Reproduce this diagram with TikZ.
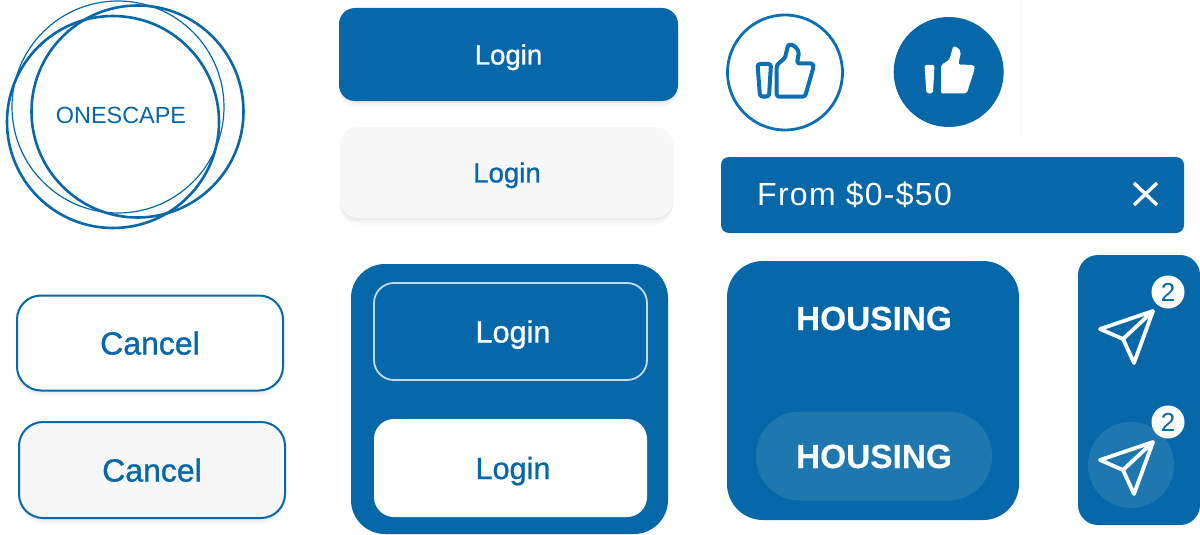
\documentclass[tikz,border=0pt]{standalone}
\usepackage{fontspec}
\setmainfont{Liberation Sans}
\newfontfamily\medfont[FakeBold=1]{Liberation Sans}
\newfontfamily\hvyfont[FakeBold=0.2]{Liberation Sans Bold}
\newfontfamily\widefont[LetterSpace=4]{Liberation Sans}
\definecolor{brand}{HTML}{0668A8}
\definecolor{chipgrey}{HTML}{F7F7F7}
\definecolor{ringblue}{HTML}{0B6FB3}
\tikzset{
  softshadow/.style={
    preaction={draw=none,fill=black,fill opacity=.025,transform canvas={yshift=-1.5pt}},
    preaction={draw=none,fill=black,fill opacity=.025,transform canvas={yshift=-3pt}},
    preaction={draw=none,fill=black,fill opacity=.02,transform canvas={yshift=-5pt}},
    preaction={draw=none,fill=black,fill opacity=.015,transform canvas={yshift=-7pt}}},
  btn/.style={rectangle,inner sep=0pt,outer sep=0pt,text depth=0pt,align=center},
  loginfont/.style={font=\medfont\fontsize{27.6}{28}\selectfont,text height=19.9pt},
  biglogin/.style={font=\medfont\fontsize{30.6}{31}\selectfont,text height=22pt},
  cancelfont/.style={font=\medfont\fontsize{32}{32}\selectfont,text height=23pt},
  housefont/.style={font=\hvyfont\fontsize{33.4}{34}\selectfont,text height=24pt},
  ring/.style={draw=brand,line width=2.6pt},
  thinring/.style={draw=brand,line width=1.2pt},
  plane/.style={draw=white,line width=3.8pt,line join=round,line cap=round},
  badge/.style={circle,fill=white,text=brand,minimum size=33pt,inner sep=0pt,font=\fontsize{26}{26}\selectfont,text height=18.7pt,text depth=0pt},
  panel/.style={fill=brand,draw=none},
}
\begin{document}
\begin{tikzpicture}[x=1pt,y=-1pt]
\useasboundingbox[fill=white] (0,0) rectangle (1200,535);
% faint seam
\fill[black!3] (1021,0) rectangle (1022,135);
% logo
\draw[ring] (113,122) circle[radius=106];
\draw[ring] (137.5,111.5) circle[radius=106];
\draw[thinring] (118,107) circle[radius=106];
\node[btn,text=brand,font=\fontsize{23.4}{24}\selectfont,text height=16.8pt] (logo) at (121,115) {ONESCAPE};
% login buttons
\node[btn,softshadow,fill=brand,rounded corners=16pt,minimum width=339pt,minimum height=93pt,text=white,loginfont] (login1) at (508.5,54.5) {Login};
\node[btn,softshadow,fill=chipgrey,rounded corners=18pt,minimum width=333pt,minimum height=91pt,text=brand,loginfont] (login2) at (506.5,172.5) {\hspace{1pt}Login};
% cancel buttons
\node[btn,softshadow,fill=white,draw=brand,line width=2pt,rounded corners=24pt,minimum width=266pt,minimum height=95pt,text=brand,cancelfont] (cancel1) at (150,343) {Cancel};
\node[btn,softshadow,fill=chipgrey,draw=brand,line width=2pt,rounded corners=24pt,minimum width=266pt,minimum height=96pt,text=brand,cancelfont] (cancel2) at (152,470) {Cancel};
% login panel
\node[btn,panel,rounded corners=34pt,minimum width=317pt,minimum height=270pt] (panelA) at (509.5,399) {};
\node[btn,draw=white!75!brand,line width=1.8pt,rounded corners=20pt,minimum width=273pt,minimum height=97pt,text=white,biglogin] (login3) at (510.5,331.5) {\hspace{5pt}Login};
\node[btn,fill=white,rounded corners=20pt,minimum width=273pt,minimum height=98pt,text=brand,biglogin] (login4) at (510.5,468) {\hspace{5pt}Login};
% like icons
\node[circle,draw=ringblue,line width=2.8pt,minimum size=115pt,inner sep=0pt] (likeA) at (785,72.5) {};
\node[circle,fill=brand,minimum size=110pt,inner sep=0pt] (likeB) at (948.7,72) {};
\begin{scope}[line width=4pt,draw=ringblue,line join=round]
  \draw[rounded corners=2.5pt] (757.5,64) -- (771,64) -- (769,96.5) -- (760,96.5) -- cycle;
  \draw[rounded corners=2.5pt] (776.7,96.7) -- (776.7,65) -- (785,58) -- (788.3,44) -- (795,46) -- (799,52) -- (797,63.5) -- (813,63.5) -- (813.5,67) -- (805,96.7) -- cycle;
\end{scope}
\fill[white,rounded corners=2pt] (924.5,65) -- (934.5,65) -- (933,93.5) -- (926.5,93.5) -- cycle;
\fill[white,rounded corners=2pt] (941,93.5) -- (941,65) -- (949.3,60) -- (953.3,46) -- (958,47.5) -- (961,52) -- (958.3,64.5) -- (974,65) -- (975,68) -- (966.7,93.5) -- cycle;
% chip
\node[btn,panel,rounded corners=8pt,minimum width=463pt,minimum height=76pt] (chip) at (952.5,195) {};
\node[anchor=west,inner sep=0pt,text=white,font=\widefont\fontsize{32}{32}\selectfont,text height=23pt,text depth=0pt] (chiptxt) at (757,194) {From \$0-\$50};
\coordinate (xa) at (1134,183);
\coordinate (xb) at (1157,205);
\coordinate (xc) at (1157,183);
\coordinate (xd) at (1134,205);
\draw[white,line width=3.4pt] (xa) -- (xb) (xc) -- (xd);
% housing
\node[btn,panel,rounded corners=36pt,minimum width=292pt,minimum height=259pt] (panelB) at (873,390.5) {};
\node[btn,text=white,housefont] (house1) at (874,318) {HOUSING};
\node[btn,fill=white,fill opacity=.1,text opacity=1,rounded corners=44pt,minimum width=236pt,minimum height=89pt,text=white,housefont] (house2) at (874,456) {HOUSING};
% send panel
\node[btn,panel,rounded corners=20pt,minimum width=122pt,minimum height=270pt] (panelC) at (1139,390) {};
\node[circle,fill=white,fill opacity=.1,minimum size=86pt,inner sep=0pt] (halo) at (1131,465) {};
\draw[plane] (1153,311) -- (1100,329) -- (1123,339) -- (1134,363) -- cycle (1123,339) -- (1153,311);
\draw[plane] (1153,442) -- (1100,460) -- (1123,470) -- (1134,494) -- cycle (1123,470) -- (1153,442);
\node[badge] (b1) at (1168,292) {2};
\node[badge] (b2) at (1168,422) {2};
\end{tikzpicture}
\end{document}
